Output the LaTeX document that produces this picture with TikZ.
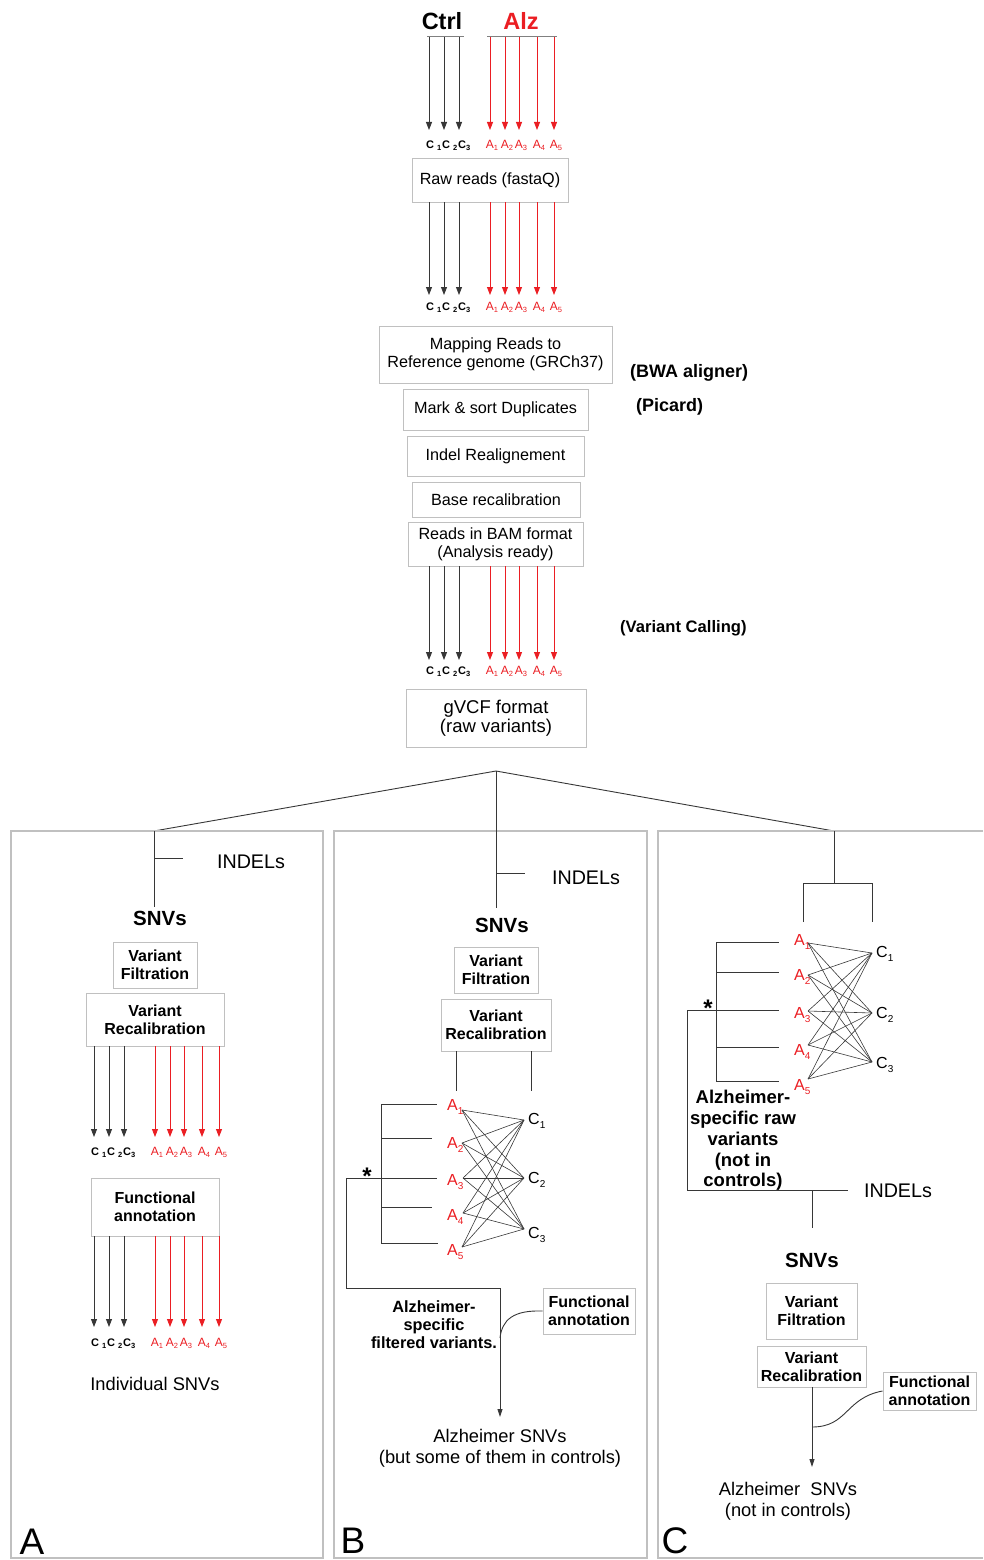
\documentclass[tikz,border=0pt]{standalone}
\usepackage{fontspec}
\setmainfont{Liberation Sans}
\usetikzlibrary{arrows.meta}
\definecolor{alzred}{RGB}{235,30,35}
\definecolor{boxgray}{RGB}{192,192,192}
\definecolor{linegray}{RGB}{55,55,55}
\newcommand{\fs}[2]{\fontsize{#1}{#2}\selectfont}
\newcommand{\subS}[1]{\raisebox{-2.6pt}{\fs{7.5}{8}#1}}
\newcommand{\subL}[1]{\raisebox{-4pt}{\fs{10}{10}#1}}
\tikzset{
  box/.style={draw=boxgray, line width=1pt, inner sep=0pt, align=center, font=\fs{16.2}{18}},
  bbox/.style={box, font=\bfseries\fs{16}{18}},
  hdr/.style={inner sep=0pt, font=\bfseries\fs{23.5}{26}},
  note/.style={inner sep=0pt, align=center, font=\bfseries\fs{18}{20}},
  plain/.style={inner sep=0pt, align=center, font=\fs{18.3}{20.5}},
  indel/.style={inner sep=0pt, font=\fs{19.7}{22}},
  snv/.style={inner sep=0pt, font=\bfseries\fs{20.5}{22}},
  panlet/.style={inner sep=0pt, font=\fs{37}{40}},
  alab/.style={inner sep=0pt, text=alzred, font=\fs{12}{14}},
  clab/.style={inner sep=0pt, font=\bfseries\fs{11}{13}},
  pa/.style={inner sep=0pt, text=alzred, font=\fs{16}{18}},
  pc/.style={inner sep=0pt, font=\fs{16}{18}},
  star/.style={inner sep=0pt, font=\bfseries\fs{24}{26}},
  blkarr/.style={draw=linegray, line width=0.9pt, -{Triangle[length=8pt,width=6pt]}},
  redarr/.style={draw=alzred, line width=0.9pt, -{Triangle[length=8pt,width=6pt]}},
  tree/.style={draw=linegray, line width=0.9pt},
  flowarr/.style={tree, -{Triangle[length=8pt,width=5pt]}},
  hline/.style={draw=gray, line width=1pt},
  panel/.style={draw=boxgray, line width=1.2pt},
  cross/.style={draw=linegray, line width=0.6pt},
}
% #1 dx, #2 ytop, #3 ytip, #4 label baseline, #5 prefix
\newcommand{\arrowrow}[5]{%
  \foreach \xx [count=\k] in {429,444,459}{
    \coordinate (#5-c\k-t) at (#1+\xx,#2);
    \coordinate (#5-c\k-b) at (#1+\xx,#3);
    \draw[blkarr] (#5-c\k-t) -- (#5-c\k-b);
  }
  \foreach \xx [count=\k] in {490,505,519,537,554}{
    \coordinate (#5-a\k-t) at (#1+\xx,#2);
    \coordinate (#5-a\k-b) at (#1+\xx,#3);
    \draw[redarr] (#5-a\k-t) -- (#5-a\k-b);
    \node[alab, anchor=base] (#5-al\k) at (#1+\xx+2,#4) {A\subS{\k}};
  }
  \node[clab, anchor=base west] (#5-cl1) at (#1+426,#4) {C\hspace{3pt}\subS{1}};
  \node[clab, anchor=base west] (#5-cl2) at (#1+442,#4) {C\hspace{3pt}\subS{2}};
  \node[clab, anchor=base west] (#5-cl3) at (#1+458,#4) {C\subS{3}};
}
\begin{document}
\begin{tikzpicture}[x=1pt,y=-1pt]
\useasboundingbox (0,0) rectangle (983,1560);

% ---------- header ----------
\node[hdr] (ctrl) at (442,21) {Ctrl};
\node[hdr, text=alzred] (alz) at (521,21) {Alz};
\coordinate (ctrlL) at (427,37); \coordinate (ctrlR) at (464,37);
\coordinate (alzL) at (487,37); \coordinate (alzR) at (557,37);
\draw[hline] (ctrlL) -- (ctrlR);
\draw[hline] (alzL) -- (alzR);

\arrowrow{0}{37}{130}{148}{r1}
\node[box, minimum width=156pt, minimum height=44pt] (raw) at (490,180) {Raw reads (fastaQ)};
\arrowrow{0}{202}{295}{310}{r2}

\node[box, minimum width=233pt, minimum height=57pt] (map) at (495.5,354.5) {Mapping Reads to\\Reference genome (GRCh37)};
\node[note, anchor=west] (bwa) at (630,373) {(BWA aligner)};
\node[box, minimum width=185pt, minimum height=41pt] (mark) at (495.5,409.5) {Mark \& sort Duplicates};
\node[note, anchor=west] (picard) at (636,407) {(Picard)};
\node[box, minimum width=177pt, minimum height=40pt] (indel) at (495.5,456) {Indel Realignement};
\node[box, minimum width=168pt, minimum height=35pt] (base) at (496,499.5) {Base recalibration};
\node[box, minimum width=175pt, minimum height=44pt] (bam) at (495.5,544) {Reads in BAM format\\(Analysis ready)};
\arrowrow{0}{566}{660}{674}{r3}
\node[note, anchor=west, font=\bfseries\fs{16.6}{19}] (vc) at (620,628) {(Variant Calling)};
\node[box, minimum width=180pt, minimum height=58pt, font=\fs{18.5}{19.5}] (gvcf) at (496,718) {gVCF format\\(raw variants)};

% ---------- tree ----------
\coordinate (apex) at (496,771);
\coordinate (ta) at (154,831);
\coordinate (tc) at (834,831);
\draw[tree] (ta) -- (apex) -- (tc);

% ---------- panels ----------
\coordinate (pA1) at (11,831); \coordinate (pA2) at (323,1558);
\coordinate (pB1) at (334,831); \coordinate (pB2) at (647,1558);
\coordinate (pC1) at (983,831); \coordinate (pC2) at (658,831);
\coordinate (pC3) at (658,1558); \coordinate (pC4) at (983,1558);
\draw[panel] (pA1) rectangle (pA2);
\draw[panel] (pB1) rectangle (pB2);
\draw[panel] (pC1) -- (pC2) -- (pC3) -- (pC4);

% ---------- panel A ----------
\coordinate (aBot) at (154,907);
\coordinate (aInd1) at (154,858); \coordinate (aInd2) at (183,858);
\draw[tree] (ta) -- (aBot);
\draw[tree] (aInd1) -- (aInd2);
\node[indel] (aIndel) at (251,862) {INDELs};
\node[snv] (aSnv) at (160,918) {SNVs};
\node[bbox, minimum width=84pt, minimum height=46pt] (aVF) at (155,965) {Variant\\Filtration};
\node[bbox, minimum width=138pt, minimum height=53pt] (aVR) at (155,1019.5) {Variant\\Recalibration};
\arrowrow{-335}{1046}{1137}{1155}{pa1}
\node[bbox, minimum width=128pt, minimum height=58pt] (aFA) at (155,1207) {Functional\\annotation};
\arrowrow{-335}{1236}{1327}{1346}{pa2}
\node[plain] (aInd) at (155,1384) {Individual SNVs};
\node[panlet] (letA) at (32,1542) {A};

% ---------- panel B ----------
\coordinate (bTop) at (496,771);
\coordinate (bBot) at (496,908);
\coordinate (bInd1) at (496,873); \coordinate (bInd2) at (525,873);
\draw[tree] (bTop) -- (bBot);
\draw[tree] (bInd1) -- (bInd2);
\node[indel] (bIndel) at (586,878) {INDELs};
\node[snv] (bSnv) at (502,925) {SNVs};
\node[bbox, minimum width=84pt, minimum height=46pt] (bVF) at (496,970) {Variant\\Filtration};
\node[bbox, minimum width=110pt, minimum height=52pt] (bVR) at (496,1025) {Variant\\Recalibration};
\coordinate (bL1) at (456,1051); \coordinate (bL2) at (456,1091);
\coordinate (bR1) at (531,1051); \coordinate (bR2) at (531,1091);
\draw[tree] (bL1) -- (bL2);
\draw[tree] (bR1) -- (bR2);
% A / C points
\coordinate (bA1) at (462,1110);
\coordinate (bA2) at (462,1143);
\coordinate (bA3) at (463,1178);
\coordinate (bA4) at (463,1213);
\coordinate (bA5) at (462,1247);
\coordinate (bC1) at (524,1120);
\coordinate (bC2) at (524,1178);
\coordinate (bC3) at (524,1229);
\foreach \i/\yy in {1/1110,2/1148,3/1185,4/1220,5/1255}
  \node[pa, anchor=base west] (bAl\i) at (447,\yy) {A\subL{\i}};
\foreach \i/\yy in {1/1124,2/1183,3/1238}
  \node[pc, anchor=base west] (bCl\i) at (528,\yy) {C\subL{\i}};
\foreach \i in {1,...,5}
  \foreach \j in {1,2,3}
    \draw[cross] (bA\i) -- (bC\j);
% bracket
\coordinate (bk1) at (381,1104); \coordinate (bk5) at (381,1243);
\draw[tree] (bk1) -- (bk5);
\coordinate (bk1e) at (437,1104);
\coordinate (bk2) at (381,1138); \coordinate (bk2e) at (432,1138);
\coordinate (bk3s) at (346,1178); \coordinate (bk3e) at (437,1178);
\coordinate (bk4) at (381,1207); \coordinate (bk4e) at (432,1207);
\coordinate (bk5e) at (438,1243);
\draw[tree] (bk1) -- (bk1e);
\draw[tree] (bk2) -- (bk2e);
\draw[tree] (bk3s) -- (bk3e);
\draw[tree] (bk4) -- (bk4e);
\draw[tree] (bk5) -- (bk5e);
\node[star, anchor=base] (bStar) at (367,1184) {*};
\coordinate (bf1) at (346,1288); \coordinate (bf2) at (500,1288);
\coordinate (bf3) at (500,1417); \coordinate (bfj) at (500,1338);
\draw[flowarr] (bk3s) -- (bf1) -- (bf2) -- (bf3);
\node[note, font=\bfseries\fs{16.3}{18}] (bSpec) at (434,1325) {Alzheimer-\\specific\\filtered variants.};
\node[bbox, minimum width=92pt, minimum height=46pt] (bFA) at (589,1311) {Functional\\annotation};
\draw[tree] (bFA.west) .. controls (513,1310) and (502,1320) .. (bfj);
\node[plain] (bRes) at (500,1448) {Alzheimer SNVs\\(but some of them in controls)};
\node[panlet] (letB) at (353,1541) {B};

% ---------- panel C ----------
\coordinate (cT2) at (834,883);
\coordinate (cTL) at (803,883); \coordinate (cTR) at (872,883);
\coordinate (cTLb) at (803,922); \coordinate (cTRb) at (872,922);
\draw[tree] (tc) -- (cT2);
\draw[tree] (cTLb) -- (cTL) -- (cTR) -- (cTRb);
\coordinate (cA1) at (808,943);
\coordinate (cA2) at (808,975);
\coordinate (cA3) at (808,1011);
\coordinate (cA4) at (808,1045);
\coordinate (cA5) at (808,1079);
\coordinate (cC1) at (872,953);
\coordinate (cC2) at (872,1013);
\coordinate (cC3) at (872,1062);
\foreach \i/\yy in {1/945,2/980,3/1018,4/1055,5/1090}
  \node[pa, anchor=base west] (cAl\i) at (794,\yy) {A\subL{\i}};
\foreach \i/\yy in {1/957,2/1018,3/1068}
  \node[pc, anchor=base west] (cCl\i) at (876,\yy) {C\subL{\i}};
\foreach \i in {1,...,5}
  \foreach \j in {1,2,3}
    \draw[cross] (cA\i) -- (cC\j);
\coordinate (ck1) at (716,942); \coordinate (ck5) at (716,1081);
\draw[tree] (ck1) -- (ck5);
\coordinate (ck1e) at (779,942);
\coordinate (ck2) at (716,972); \coordinate (ck2e) at (779,972);
\coordinate (ck3s) at (687,1010); \coordinate (ck3e) at (779,1010);
\coordinate (ck4) at (716,1047); \coordinate (ck4e) at (779,1047);
\coordinate (ck5e) at (779,1081);
\draw[tree] (ck1) -- (ck1e);
\draw[tree] (ck2) -- (ck2e);
\draw[tree] (ck3s) -- (ck3e);
\draw[tree] (ck4) -- (ck4e);
\draw[tree] (ck5) -- (ck5e);
\node[star, anchor=base] (cStar) at (708,1016) {*};
\coordinate (cf1) at (687,1190); \coordinate (cf2) at (848,1190);
\draw[tree] (ck3s) -- (cf1) -- (cf2);
\node[indel] (cIndel) at (898,1191) {INDELs};
\node[note, font=\bfseries\fs{18.5}{20.8}] (cSpec) at (743,1140.5) {Alzheimer-\\specific raw\\variants\\(not in\\controls)};
\coordinate (cs1) at (812,1190); \coordinate (cs2) at (812,1228);
\draw[tree] (cs1) -- (cs2);
\node[snv] (cSnv) at (812,1260) {SNVs};
\node[bbox, minimum width=91pt, minimum height=56pt] (cVF) at (811.5,1311) {Variant\\Filtration};
\node[bbox, minimum width=109pt, minimum height=41pt] (cVR) at (811.5,1366.5) {Variant\\Recalibration};
\coordinate (cv1) at (812,1387); \coordinate (cv2) at (812,1467);
\coordinate (cvj) at (812,1427);
\draw[flowarr] (cv1) -- (cv2);
\node[bbox, minimum width=93pt, minimum height=38pt] (cFA) at (929.5,1391) {Functional\\annotation};
\draw[tree] (cFA.west) .. controls (845,1398) and (848,1427) .. (cvj);
\node[plain, font=\fs{18.3}{21}] (cRes) at (788,1501) {Alzheimer\ \ SNVs\\(not in controls)};
\node[panlet] (letC) at (675,1541) {C};
\end{tikzpicture}
\end{document}
